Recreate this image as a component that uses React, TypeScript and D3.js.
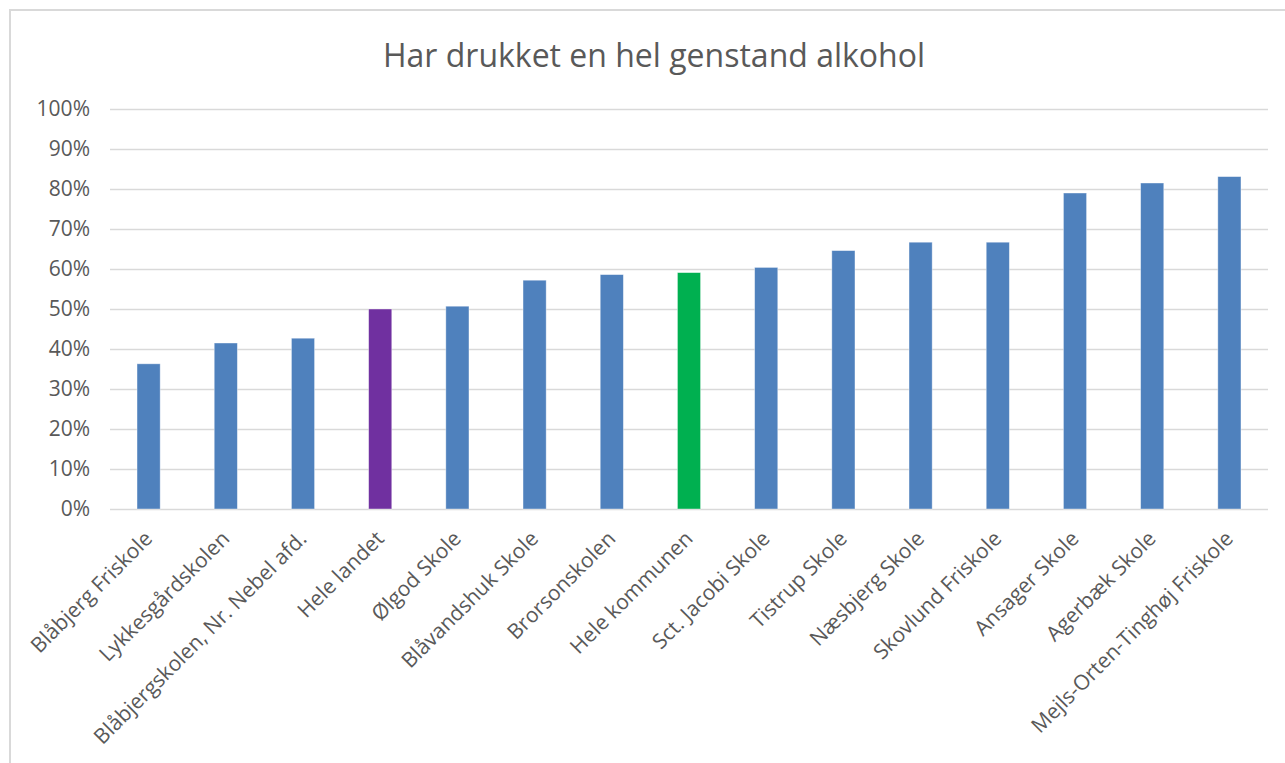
import * as d3 from "d3";
import { useEffect, useRef } from "react";

// kategorier og andele (andel der har drukket en hel genstand)
const schools = [
  "Blåbjerg Friskole",
  "Lykkesgårdskolen",
  "Blåbjergskolen, Nr. Nebel afd.",
  "Hele landet",
  "Ølgod Skole",
  "Blåvandshuk Skole",
  "Brorsonskolen",
  "Hele kommunen",
  "Sct. Jacobi Skole",
  "Tistrup Skole",
  "Næsbjerg Skole",
  "Skovlund Friskole",
  "Ansager Skole",
  "Agerbæk Skole",
  "Mejls-Orten-Tinghøj Friskole",
];
const shares = [
  0.363, 0.415, 0.427, 0.5, 0.507, 0.572, 0.586, 0.591, 0.604, 0.646, 0.667,
  0.667, 0.79, 0.815, 0.831,
];
const yTicks = [0, 0.1, 0.2, 0.3, 0.4, 0.5, 0.6, 0.7, 0.8, 0.9, 1];
const title = "Har drukket en hel genstand alkohol";

const barColor = (name: string) =>
  name === "Hele landet" ? "#7030A0" : name === "Hele kommunen" ? "#00B050" : "#4F81BD";

const W = 1285;
const H = 763;

export default function App() {
  const svgRef = useRef<SVGSVGElement | null>(null);

  useEffect(() => {
    if (!svgRef.current) return;
    const svg = d3.select(svgRef.current);
    svg.selectAll("*").remove();

    const font = "'Open Sans', sans-serif";
    const textColor = "#595959";
    const plot = { left: 110, right: 1268, top: 109, bottom: 509 };

    // ramme om diagrammet
    svg.append("rect").attr("width", W).attr("height", H).attr("fill", "#fff");
    svg
      .append("rect")
      .attr("x", 10)
      .attr("y", 10)
      .attr("width", W + 20)
      .attr("height", H + 20)
      .attr("fill", "none")
      .attr("stroke", "#D9D9D9")
      .attr("stroke-width", 2);

    const x = d3
      .scaleBand()
      .domain(schools)
      .range([plot.left, plot.right])
      .paddingInner(0.7)
      .paddingOuter(0.35);

    const y = d3.scaleLinear().domain([0, 1]).range([plot.bottom, plot.top]);

    // gitterlinjer
    svg
      .append("g")
      .selectAll("line")
      .data(yTicks)
      .enter()
      .append("line")
      .attr("x1", plot.left)
      .attr("x2", plot.right)
      .attr("y1", (d) => Math.round(y(d)) + 0.5)
      .attr("y2", (d) => Math.round(y(d)) + 0.5)
      .attr("stroke", "#D9D9D9")
      .attr("stroke-width", 1.3);

    // y-akse tekst
    svg
      .append("g")
      .selectAll("text")
      .data(yTicks)
      .enter()
      .append("text")
      .attr("x", 90)
      .attr("y", (d) => y(d))
      .attr("dy", "0.35em")
      .attr("text-anchor", "end")
      .attr("font-family", font)
      .attr("font-size", 21)
      .attr("fill", textColor)
      .text((d) => d3.format(".0%")(d));

    // søjler
    svg
      .append("g")
      .selectAll("rect")
      .data(schools)
      .enter()
      .append("rect")
      .attr("x", (d) => x(d)!)
      .attr("y", (_, i) => y(shares[i]))
      .attr("width", x.bandwidth())
      .attr("height", (_, i) => y(0) - y(shares[i]))
      .attr("fill", (d) => barColor(d))
      .attr("stroke", "#ffffff")
      .attr("stroke-opacity", 0.5)
      .attr("stroke-width", 0.8);

    // kategori tekst, skrå
    svg
      .append("g")
      .selectAll("text")
      .data(schools)
      .enter()
      .append("text")
      .attr("transform", (d) => {
        const cx = x(d)! + x.bandwidth() / 2 + 5;
        return `translate(${cx},${plot.bottom + 31}) rotate(-45)`;
      })
      .attr("text-anchor", "end")
      .attr("font-family", font)
      .attr("font-size", 21)
      .attr("fill", textColor)
      .text((d) => d);

    // titel
    svg
      .append("text")
      .attr("x", 654)
      .attr("y", 67)
      .attr("text-anchor", "middle")
      .attr("font-family", font)
      .attr("font-size", 32)
      .attr("fill", textColor)
      .text(title);
  }, []);

  return (
    <svg
      ref={svgRef}
      width={W}
      height={H}
      style={{ position: "absolute", left: 0, top: 0, display: "block" }}
    />
  );
}
